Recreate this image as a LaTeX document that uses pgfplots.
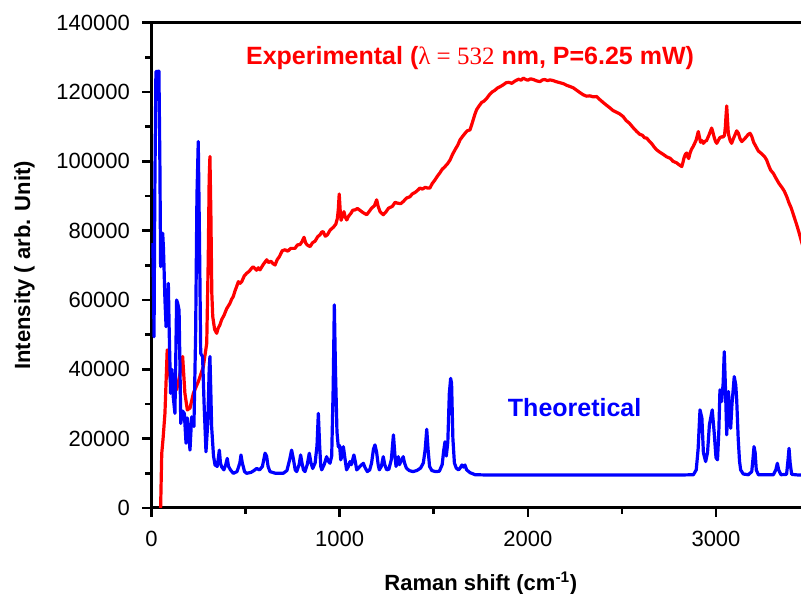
\documentclass[border=0pt]{standalone}
\usepackage{pgfplots}
\pgfplotsset{compat=1.18}
\usepackage{fontspec}
\setmainfont{Liberation Sans}
\newfontfamily\serif{Liberation Serif}
\definecolor{expred}{RGB}{255,0,0}
\definecolor{thblue}{RGB}{0,0,255}
\begin{document}
\begin{tikzpicture}
\begin{axis}[
  scale only axis,
  width=658.7pt, height=485.3pt,
  xmin=0, xmax=3500, ymin=0, ymax=140000,
  xtick={0,1000,2000,3000},
  ytick={0,20000,40000,60000,80000,100000,120000,140000},
  minor x tick num=1, minor y tick num=1,
  scaled x ticks=false, scaled y ticks=false,
  /pgf/number format/assume math mode=true,
  /pgf/number format/1000 sep={},
  /pgf/number format/fixed,
  xtick pos=left, ytick pos=left,
  xtick align=outside, ytick align=outside,
  major tick length=9pt, minor tick length=6pt,
  every tick/.style={black, line width=2.5pt},
  axis line style={line width=3pt},
  tick label style={font=\fontsize{22}{26}\selectfont},
  yticklabel style={xshift=-9pt},
  xticklabel style={yshift=-11pt},
  xlabel={Raman shift (cm\textsuperscript{-1})},
  ylabel={Intensity ( arb. Unit)},
  every axis x label/.style={at={(axis description cs:0.5,-0.169)}, anchor=base, font=\fontsize{22}{26}\selectfont\bfseries},
  every axis y label/.style={at={(axis description cs:-0.1843,0.5)}, rotate=90, anchor=base, font=\fontsize{22}{26}\selectfont\bfseries},
  clip=true,
]
\addplot[color=expred, line width=3.2pt, line join=round] coordinates {
(49,0)(52,8000)(55,15800)(62,20000)(72,27300)(84,45600)(95,38900)(113,34100)
(134,34100)(150,38000)(166,43700)(178,33100)(191,28300)(205,28800)(223,33100)
(249,36400)(276,40800)(294,47500)(302,71600)(307,95000)(311,101400)(316,85000)
(321,62000)(326,55200)(336,51500)(347,50400)(355,51900)(364,52800)(373,54300)
(386,55600)(400,57500)(417,59000)(426,60200)(435,61000)(444,62600)(453,63900)
(462,65300)(471,64800)(480,65300)(493,66900)(506,67700)(520,68300)(533,69200)
(541,69600)(559,68600)(568,69300)(577,68700)(595,70300)(613,71600)(622,70800)
(635,71200)(646,70500)(657,70100)(668,71600)(680,72500)(695,74200)(710,74500)
(725,74100)(740,74900)(763,74900)(776,75900)(790,76000)(800,76800)(811,78100)
(820,76400)(830,75800)(843,75400)(856,76500)(870,77000)(884,78300)(896,78800)
(905,79600)(913,79700)(924,78400)(935,78800)(950,80200)(967,81000)(980,81900)
(988,83500)(993,86000)(998,90600)(1003,86000)(1008,83000)(1013,83800)(1018,84300)
(1023,85500)(1030,83900)(1038,83100)(1048,84200)(1060,85000)(1070,85900)
(1082,86000)(1095,86400)(1110,85800)(1125,85200)(1144,84600)(1158,85600)
(1170,86500)(1185,87200)(1197,88900)(1205,87000)(1215,85500)(1232,84600)
(1246,85400)(1260,86500)(1280,87000)(1295,88200)(1303,88000)(1312,87900)
(1325,87800)(1340,88500)(1355,89400)(1374,89800)(1386,90600)(1400,91000)
(1414,91600)(1427,92300)(1440,92000)(1455,92500)(1468,92300)(1480,92300)
(1492,93600)(1505,94500)(1518,95600)(1533,96700)(1545,97700)(1560,98500)
(1572,99200)(1587,100400)(1600,102000)(1615,103500)(1628,104700)(1640,106200)
(1652,107100)(1665,108000)(1678,108800)(1693,109100)(1702,110600)(1710,112000)
(1719,113600)(1728,114900)(1740,115900)(1755,117000)(1768,117400)(1782,118200)
(1796,119200)(1810,120000)(1825,120500)(1840,121200)(1855,121600)(1870,122100)
(1885,122700)(1900,122800)(1915,122500)(1930,123100)(1950,123700)(1965,123400)
(1976,124000)(1990,123600)(2000,123400)(2015,123800)(2030,123600)(2048,123200)
(2065,123000)(2078,123500)(2090,123600)(2105,123300)(2118,123500)(2135,123300)
(2150,123000)(2170,122700)(2190,122400)(2208,121900)(2224,121600)(2242,121200)
(2260,120500)(2278,119800)(2295,119200)(2312,118800)(2330,118900)(2348,118600)
(2366,118700)(2383,117800)(2400,117000)(2418,116200)(2437,115400)(2452,114700)
(2470,114200)(2488,113700)(2507,112900)(2522,111800)(2540,111000)(2560,109700)
(2579,108600)(2595,107800)(2610,107500)(2620,106800)(2632,106700)(2646,105800)
(2660,105000)(2672,104100)(2685,103300)(2700,102700)(2720,102000)(2738,101300)
(2756,100900)(2772,100000)(2790,99600)(2804,99000)(2818,98500)(2824,99600)
(2830,101000)(2837,102000)(2844,102400)(2850,101300)(2855,100800)(2862,102400)
(2870,103500)(2878,104200)(2885,105000)(2895,106200)(2906,108600)(2912,107000)
(2918,105500)(2925,106000)(2933,105200)(2942,105800)(2950,106000)(2962,107500)
(2977,109600)(2983,108500)(2990,107000)(2997,105800)(3004,105200)(3012,106000)
(3020,106800)(3030,107100)(3038,107000)(3045,107500)(3050,110000)(3053,113000)
(3057,116000)(3061,112000)(3065,108500)(3068,107500)(3075,106000)(3083,105200)
(3092,106500)(3100,107500)(3110,108800)(3119,108100)(3128,106500)(3137,105700)
(3148,106300)(3160,107000)(3170,107700)(3181,108100)(3190,107200)(3200,105500)
(3212,104300)(3225,103000)(3238,102400)(3250,101800)(3260,101200)(3269,100400)
(3280,98800)(3290,97500)(3305,96500)(3320,95000)(3335,93600)(3350,92500)
(3363,91400)(3376,89800)(3388,88000)(3400,86500)(3415,84000)(3430,81500)
(3442,79300)(3452,77300)(3470,74000)
};
\addplot[color=thblue, line width=3.2pt, line join=round] coordinates {
(8,76400)(12,60000)(14,49400)(18,90000)(24,125900)(40,126000)(45,100000)(49,69600)
(55,75000)(60,79300)(64,75000)(67,69600)(72,60000)(78,52300)(84,58000)(90,64800)
(95,50000)(102,33100)(108,40000)(116,32100)(125,27300)(130,45000)(134,60000)
(140,59000)(147,57100)(152,40000)(156,24400)(165,28000)(175,27300)(184,18700)
(190,26000)(196,23500)(205,16700)(214,26300)(220,25000)(226,23500)(235,50000)
(242,90000)(249,105700)(255,80000)(262,44600)(268,44000)(272,43700)(280,30000)
(290,16200)(300,25000)(307,40000)(311,43700)(316,33000)(320,23500)(330,15000)
(338,12400)(350,12000)(361,16700)(367,13000)(373,11900)(385,11000)(395,12500)
(403,14300)(410,12000)(420,11000)(435,10000)(455,10500)(470,13000)(476,15300)
(483,13000)(495,10500)(506,10000)(530,10300)(545,10800)(559,11400)(575,11000)
(590,12000)(604,15800)(612,15000)(620,12000)(630,10500)(660,10000)(700,10000)
(720,10800)(735,14000)(745,16700)(755,14000)(764,11000)(772,10500)(785,12500)
(793,15300)(800,13000)(808,11000)(816,10500)(828,12500)(839,15800)(848,13000)
(857,11400)(870,13000)(880,18000)(887,27300)(894,18000)(900,12000)(905,11000)
(918,12500)(931,14800)(940,13500)(949,12900)(958,15000)(966,35000)(972,58600)
(978,40000)(986,22000)(993,17700)(1000,18000)(1006,13900)(1013,15000)(1020,17700)
(1028,14500)(1037,11000)(1047,12000)(1055,13400)(1063,12500)(1070,14000)
(1076,15300)(1083,13500)(1091,11000)(1100,11500)(1112,12200)(1126,12900)
(1135,11700)(1147,10500)(1160,11000)(1170,13000)(1180,17000)(1188,18200)
(1197,16000)(1205,12500)(1211,11000)(1222,12000)(1232,14800)(1240,12500)
(1250,11000)(1262,11200)(1275,14000)(1286,21100)(1295,14500)(1300,12000)
(1312,14800)(1318,12500)(1326,13500)(1338,14800)(1345,13000)(1355,11500)
(1370,10800)(1390,10500)(1410,10800)(1430,11500)(1445,13000)(1455,17000)
(1463,22700)(1470,17000)(1478,12000)(1490,10800)(1510,10500)(1530,10600)
(1545,12500)(1553,16500)(1560,19100)(1567,15000)(1575,19000)(1583,33000)
(1590,37400)(1595,36000)(1602,20000)(1610,13000)(1620,11500)(1632,11000)
(1640,11500)(1650,12400)(1658,11800)(1666,12400)(1675,11000)(1693,10200)
(1720,9600)(1800,9500)(2800,9500)(2880,9600)(2895,11000)(2905,17000)(2915,28300)
(2925,26000)(2933,16000)(2945,13400)(2955,16000)(2965,24000)(2980,28300)
(2990,22000)(3000,14500)(3008,13900)(3015,22000)(3021,34100)(3030,30700)
(3038,36000)(3044,45100)(3050,35000)(3057,21100)(3066,33600)(3072,28000)
(3078,23000)(3085,30000)(3097,37900)(3105,35500)(3110,31200)(3118,20000)
(3125,13500)(3131,11000)(3145,9800)(3172,9600)(3190,10500)(3197,14500)
(3202,17700)(3208,16000)(3214,11000)(3225,9600)(3305,9600)(3318,11000)
(3326,12900)(3333,11000)(3345,9600)(3375,9700)(3383,14000)(3388,17200)
(3394,13000)(3402,9700)(3440,9500)(3510,9500)
};
\node[anchor=base, text=expred, font=\fontsize{25}{30}\selectfont\bfseries] at (axis cs:1693,127900)
  {Experimental ({\serif\mdseries λ = 532} nm, P=6.25 mW)};
\node[anchor=base, text=thblue, font=\fontsize{25}{30}\selectfont\bfseries] at (axis cs:2249,26350)
  {Theoretical};
\end{axis}
\pgfresetboundingbox
\path[use as bounding box] (-151.4pt,-86pt) rectangle (649.6pt,508pt);
\end{tikzpicture}
\end{document}
